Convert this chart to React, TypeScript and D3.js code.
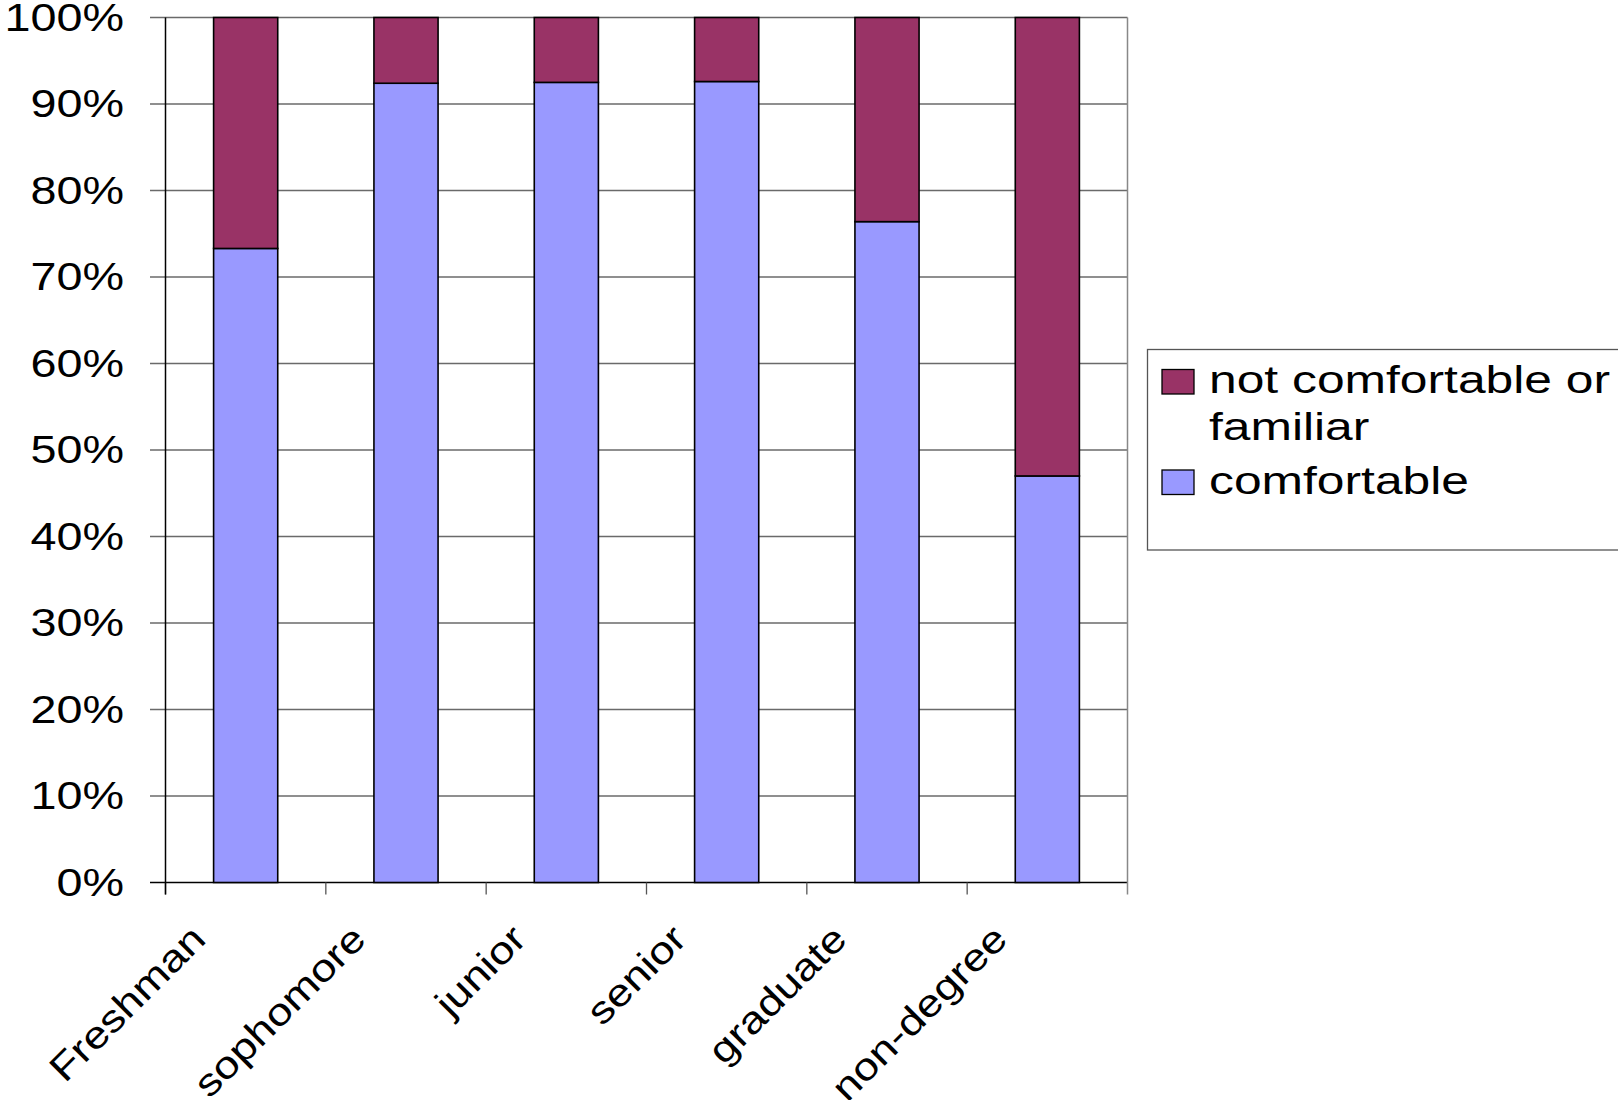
import React from "react";
import * as d3 from "d3";

const categories = ["Freshman", "sophomore", "junior", "senior", "graduate", "non-degree"];
const comfortable = [73.3, 92.4, 92.5, 92.6, 76.4, 47.0];
const notComfortable = comfortable.map((v) => 100 - v);
const seriesNames = ["not comfortable or familiar", "comfortable"];
const yTicks = [0, 10, 20, 30, 40, 50, 60, 70, 80, 90, 100];

const W = 1618;
const H = 1100;
const left = 165.5;
const right = 1127.5;
const top = 17.5;
const bottom = 882.5;
const PURPLE = "#993366";
const BLUE = "#9999FF";
const FONT = "'Liberation Sans', Arial, sans-serif";

export default function App() {
  const x = d3.scaleBand<string>().domain(categories).range([left, right]).paddingInner(0).paddingOuter(0);
  const y = d3.scaleLinear().domain([0, 100]).range([bottom, top]);
  const barW = x.bandwidth() / 2.5;

  const stackData = categories.map((c, i) => ({ cat: c, comfortable: comfortable[i], not: notComfortable[i] }));
  const stack = d3.stack<any>().keys(["comfortable", "not"])(stackData);
  const colors: Record<string, string> = { comfortable: BLUE, not: PURPLE };

  return (
    <svg width={W} height={H} style={{ position: "absolute", left: 0, top: 0, background: "#fff" }} fontFamily={FONT}>
      {/* gridlines */}
      {yTicks.map((t) => (
        <line key={"g" + t} x1={150} x2={right} y1={y(t)} y2={y(t)} stroke={t === 0 ? "#000" : "#6a6a6a"} strokeWidth={1.3} />
      ))}
      {/* right border */}
      <line x1={right} x2={right} y1={top} y2={bottom + 12} stroke="#888" strokeWidth={1.5} />
      {/* x ticks */}
      {categories.map((c) => (
        <line key={"t" + c} x1={x(c)!} x2={x(c)!} y1={bottom} y2={bottom + 12} stroke="#555" strokeWidth={1.3} />
      ))}
      {/* bars */}
      {stack.map((s) =>
        s.map((d, i) => (
          <rect
            key={s.key + i}
            x={x(categories[i])! + x.bandwidth() / 2 - barW / 2}
            width={barW}
            y={y(d[1])}
            height={y(d[0]) - y(d[1])}
            fill={colors[s.key]}
            stroke="#000"
            strokeWidth={1.6}
          />
        ))
      )}
      {/* left axis */}
      <line x1={left} x2={left} y1={top} y2={bottom + 12} stroke="#000" strokeWidth={1.5} />
      {/* y labels */}
      {yTicks.map((t) => (
        <text
          key={"yl" + t}
          transform={`translate(124,${y(t) + 13}) scale(1.23,1)`}
          textAnchor="end"
          fontSize={38}
          fill="#000"
        >
          {t + "%"}
        </text>
      ))}
      {/* x labels */}
      {categories.map((c) => (
        <text
          key={"xl" + c}
          transform={`translate(${x(c)! + x.bandwidth() / 2 - 38},${941}) rotate(-45) scale(1.18,1)`}
          textAnchor="end"
          fontSize={38}
          fill="#000"
        >
          {c}
        </text>
      ))}
      {/* legend */}
      <rect x={1147.5} y={349.5} width={600} height={200.5} fill="#fff" stroke="#555" strokeWidth={1.3} />
      <rect x={1162} y={369.5} width={32} height={24.5} fill={PURPLE} stroke="#000" strokeWidth={1.3} />
      <rect x={1162} y={470} width={32} height={24.5} fill={BLUE} stroke="#000" strokeWidth={1.3} />
      <text transform="translate(1209,393) scale(1.31,1)" fontSize={38} fill="#000">not comfortable or</text>
      <text transform="translate(1209,440) scale(1.31,1)" fontSize={38} fill="#000">familiar</text>
      <text transform="translate(1209,494) scale(1.31,1)" fontSize={38} fill="#000">{seriesNames[1]}</text>
    </svg>
  );
}
